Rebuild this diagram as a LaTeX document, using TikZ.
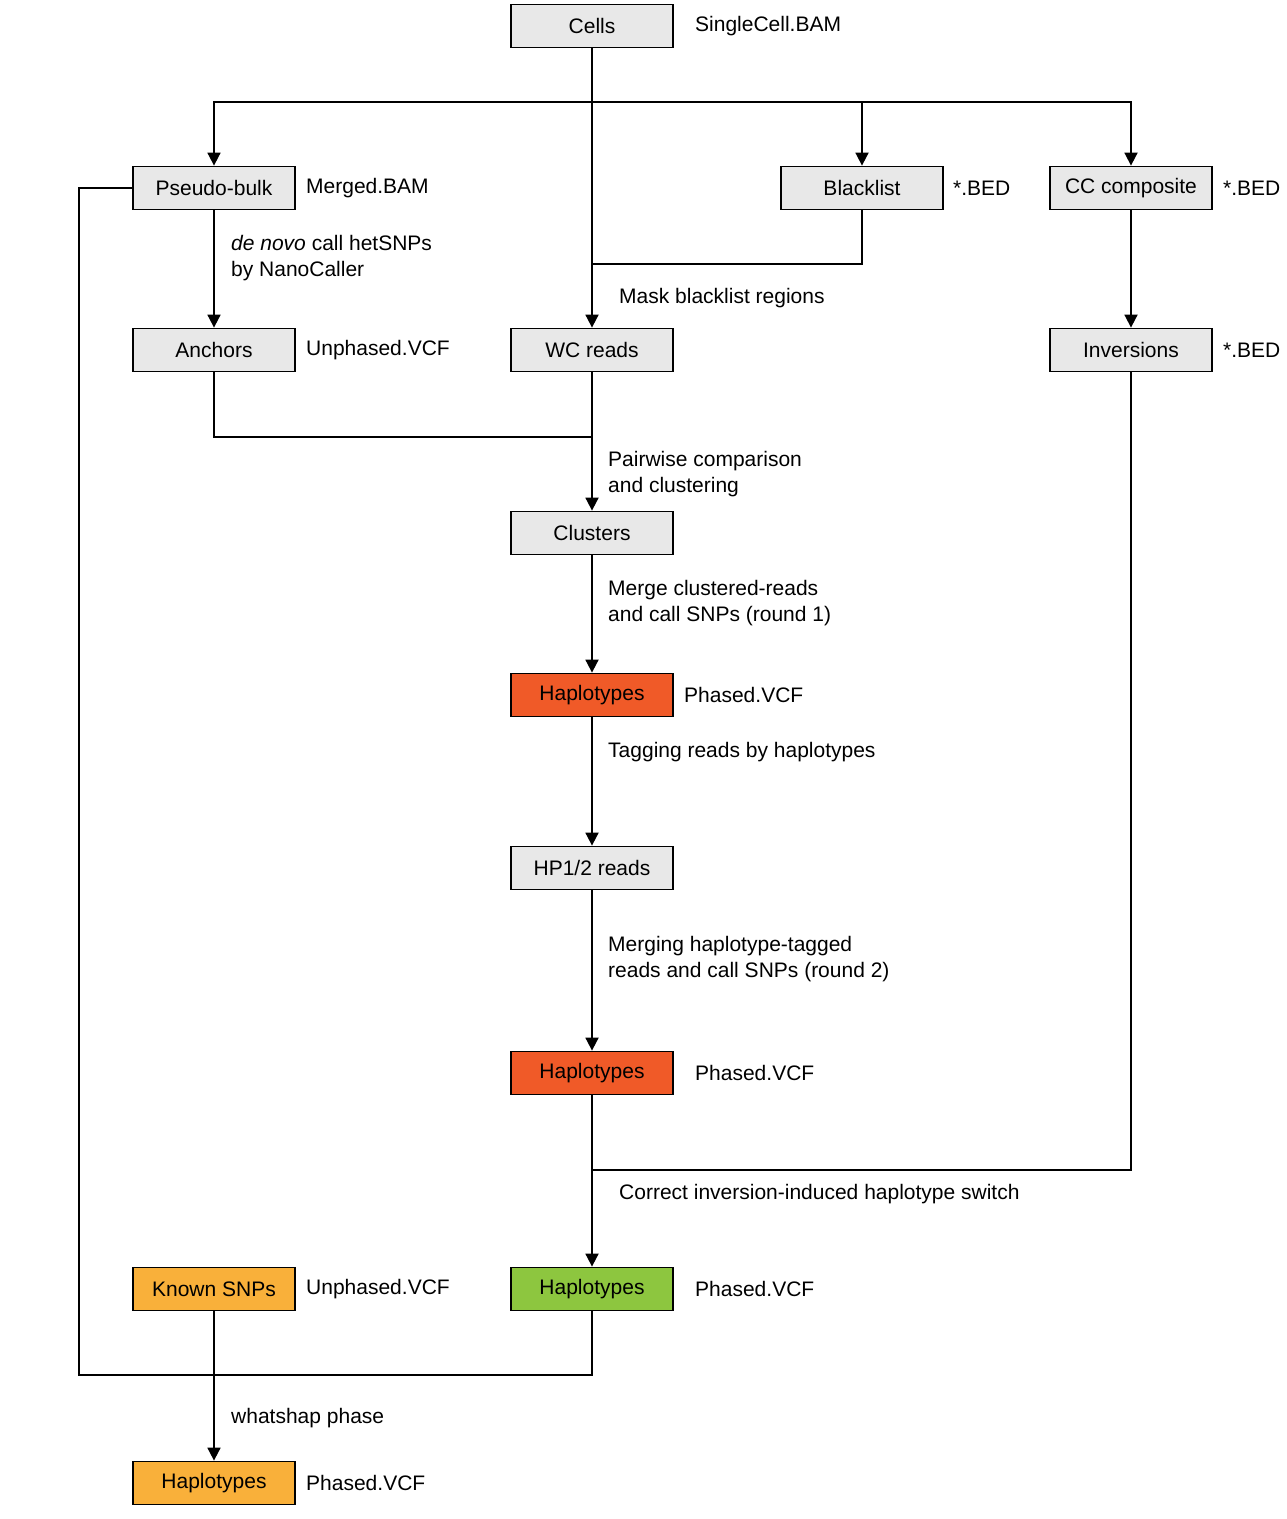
\documentclass[tikz,border=0pt]{standalone}
\usepackage{fontspec}
\setmainfont{Liberation Sans}
\usetikzlibrary{arrows.meta}
\definecolor{gbox}{HTML}{E8E8E8}
\definecolor{rbox}{HTML}{F05A28}
\definecolor{grbox}{HTML}{8DC63F}
\definecolor{obox}{HTML}{F9B03A}
\begin{document}
\begin{tikzpicture}[x=1pt,y=-1pt,
 box/.style={draw,line width=1.8pt,fill=gbox,minimum width=162pt,minimum height=43pt,inner sep=0pt,font=\fontsize{21}{25}\selectfont},
 lab/.style={anchor=west,align=left,font=\fontsize{21}{26}\selectfont,inner sep=0pt},
 ln/.style={line width=1.8pt},
 arr/.style={ln,-{Triangle[length=13pt,width=13pt]}}]
\useasboundingbox (0,0) rectangle (1287,1519);
\node[box] (cells) at (592,26) {Cells};
\node[box] (pb) at (214,188) {Pseudo-bulk};
\node[box] (bl) at (862,188) {Blacklist};
\node[box] (cc) at (1131,188) {CC composite};
\node[box] (an) at (214,350) {Anchors};
\node[box] (wc) at (592,350) {WC reads};
\node[box] (inv) at (1131,350) {Inversions};
\node[box] (cl) at (592,533) {Clusters};
\node[box,fill=rbox] (h1) at (592,695) {Haplotypes};
\node[box] (hp) at (592,868) {HP1/2 reads};
\node[box,fill=rbox] (h2) at (592,1073) {Haplotypes};
\node[box,fill=grbox] (h3) at (592,1289) {Haplotypes};
\node[box,fill=obox] (ks) at (214,1289) {Known SNPs};
\node[box,fill=obox] (h4) at (214,1483) {Haplotypes};
\node[lab] (t1) at (695,26) {SingleCell.BAM};
\node[lab] (t2) at (306,188) {Merged.BAM};
\node[lab] (t3) at (953,188) {*.BED};
\node[lab] (t4) at (1223,188) {*.BED};
\node[lab] (t5) at (306,350) {Unphased.VCF};
\node[lab] (t6) at (1223,350) {*.BED};
\node[lab] (t7) at (231,258) {\textit{de novo} call hetSNPs\\by NanoCaller};
\node[lab] (t8) at (619,298) {Mask blacklist regions};
\node[lab] (t9) at (608,474) {Pairwise comparison\\and clustering};
\node[lab] (t10) at (608,603) {Merge clustered-reads\\and call SNPs (round 1)};
\node[lab] (t11) at (684,695) {Phased.VCF};
\node[lab] (t12) at (608,752) {Tagging reads by haplotypes};
\node[lab] (t13) at (608,959) {Merging haplotype-tagged\\reads and call SNPs (round 2)};
\node[lab] (t14) at (695,1073) {Phased.VCF};
\node[lab] (t15) at (619,1194) {Correct inversion-induced haplotype switch};
\node[lab] (t16) at (695,1289) {Phased.VCF};
\node[lab] (t17) at (306,1289) {Unphased.VCF};
\node[lab] (t18) at (231,1418) {whatshap phase};
\node[lab] (t19) at (306,1483) {Phased.VCF};
\coordinate (top) at (592,102);
\draw[arr] (cells) -- (wc);
\draw[arr] (top) -| (pb);
\draw[arr] (top) -| (bl);
\draw[arr] (top) -| (cc);
\draw[ln] (bl.south) |- (592,264);
\draw[arr] (pb) -- (an);
\draw[arr] (cc) -- (inv);
\draw[ln] (an.south) |- (592,437);
\draw[arr] (wc) -- (cl);
\draw[arr] (cl) -- (h1);
\draw[arr] (h1) -- (hp);
\draw[arr] (hp) -- (h2);
\draw[arr] (h2) -- (h3);
\draw[ln] (inv.south) |- (592,1170);
\draw[ln] (pb.west) -- (79,188) |- (592,1375) -- (h3.south);
\draw[arr] (ks) -- (h4);
\end{tikzpicture}
\end{document}
